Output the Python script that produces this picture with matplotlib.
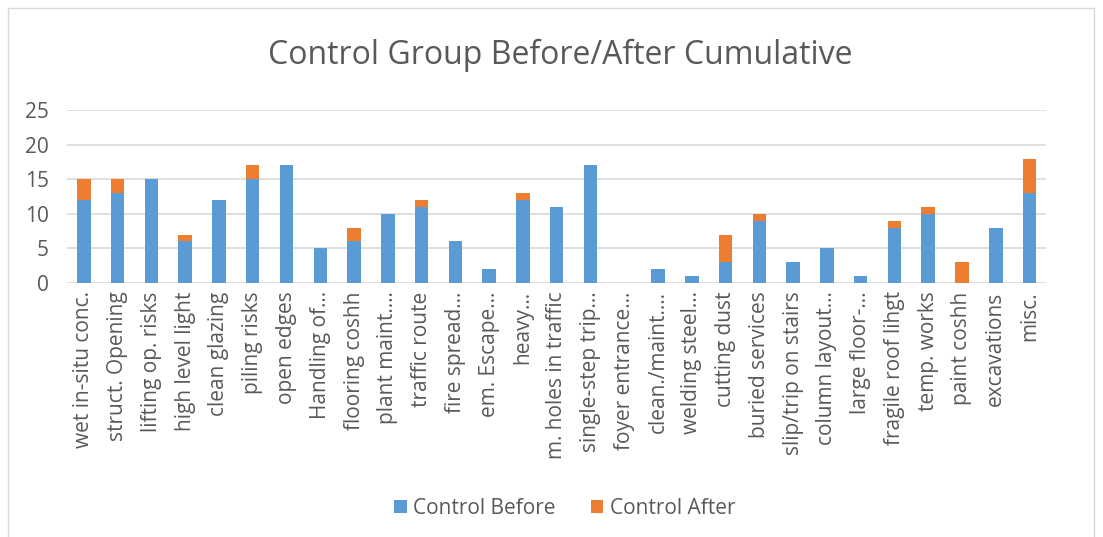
import matplotlib.pyplot as plt
import numpy as np
from matplotlib.patches import Rectangle

plt.rcParams['font.family'] = ['Open Sans', 'DejaVu Sans']

categories = ['wet in-situ conc.', 'struct. Opening', 'lifting op. risks',
              'high level light', 'clean glazing', 'piling risks', 'open edges',
              'Handling of…', 'flooring coshh', 'plant maint.…', 'traffic route',
              'fire spread…', 'em. Escape…', 'heavy…', 'm. holes in traffic',
              'single-step trip…', 'foyer entrance…', 'clean./maint.…',
              'welding steel…', 'cutting dust', 'buried services',
              'slip/trip on stairs', 'column layout…', 'large floor-…',
              'fragile roof lihgt', 'temp. works', 'paint coshh', 'excavations',
              'misc.']
before = [12, 13, 15, 6, 12, 15, 17, 5, 6, 10, 11, 6, 2, 12, 11, 17, 0, 2, 1,
          3, 9, 3, 5, 1, 8, 10, 0, 8, 13]
after = [3, 2, 0, 1, 0, 2, 0, 0, 2, 0, 1, 0, 0, 1, 0, 0, 0, 0, 0,
         4, 1, 0, 0, 0, 1, 1, 3, 0, 5]

blue = '#5B9BD5'
orange = '#ED7D31'
text_col = '#595959'
grid_col = '#D9D9D9'

fig = plt.figure(figsize=(11.03, 5.37), dpi=100)
# chart border
fig.patches.append(Rectangle((0.007, -0.01), 0.985, 0.995, transform=fig.transFigure,
                             fill=False, edgecolor=grid_col, linewidth=1))

ax = fig.add_axes([0.0607, 0.473, 0.888, 0.322])
x = np.arange(len(categories))
ax.bar(x, before, width=0.4, color=blue, label='Control Before', zorder=3)
ax.bar(x, after, width=0.4, bottom=before, color=orange, label='Control After', zorder=3)

ax.set_xlim(-0.5, len(categories) - 0.5)
ax.set_ylim(0, 25)
ax.set_yticks(range(0, 26, 5))
ax.yaxis.grid(True, color=grid_col, linewidth=1.2, zorder=0)
ax.set_axisbelow(True)
for s in ax.spines.values():
    s.set_visible(False)
ax.tick_params(axis='both', length=0, labelsize=15, labelcolor=text_col)
ax.tick_params(axis='y', pad=13)
ax.set_xticks(x)
ax.set_xticklabels(categories, rotation=90, ha='center', va='top')
ax.tick_params(axis='x', pad=6)

fig.text(0.508, 0.897, 'Control Group Before/After Cumulative', ha='center', va='center',
         fontsize=23, color=text_col)

leg = fig.legend(loc='center', bbox_to_anchor=(0.512, 0.054), ncol=2, frameon=False,
                 fontsize=15, handlelength=0.6, handleheight=0.6, columnspacing=1.7,
                 handletextpad=0.3)
for t in leg.get_texts():
    t.set_color(text_col)

fig.savefig('out.png', dpi=100)
